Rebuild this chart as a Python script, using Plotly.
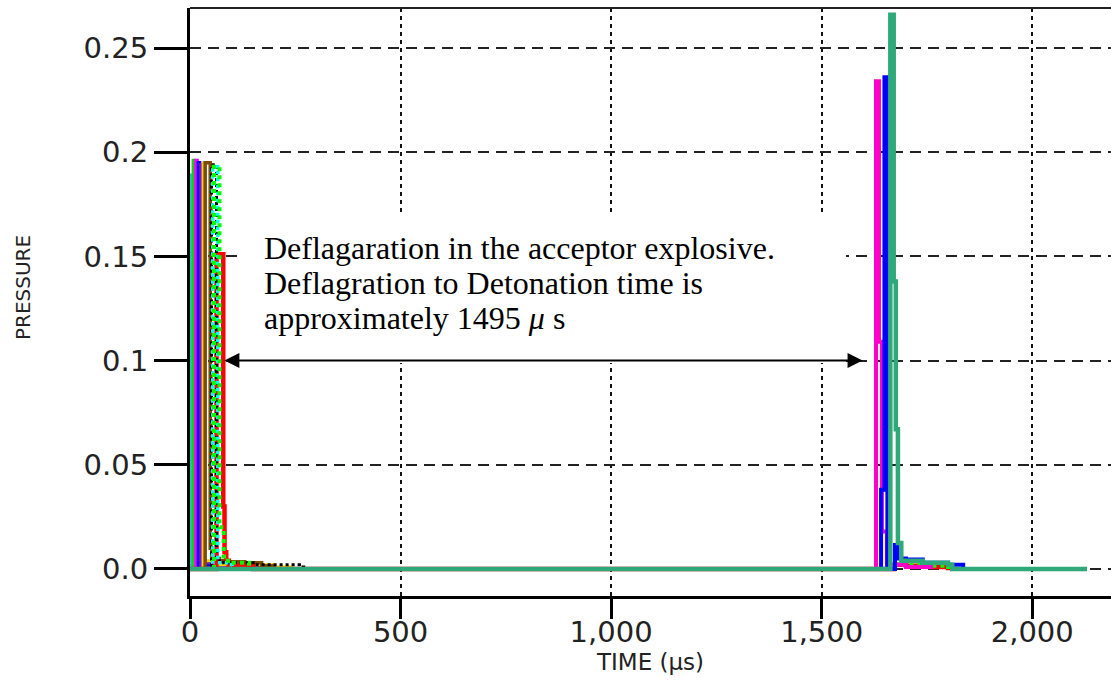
import plotly.graph_objects as go

# ---------------------------------------------------------------
# Gauge records: time in microseconds, pressure in solver units.
# Samples are held until the next sample (step plotting).
# ---------------------------------------------------------------

# Donor-side gauges (first pulse near t = 0)
t_cyan = [0, 2, 5, 40, 120]
p_cyan = [0.0, 0.189, 0.002, 0.001, 0.0]

t_green = [0, 8, 11, 60, 150]
p_green = [0.0, 0.196, 0.002, 0.001, 0.0]

t_magenta = [0, 14, 17, 80, 160]
p_magenta = [0.0, 0.196, 0.002, 0.001, 0.0]

t_blue = [0, 20, 23, 90, 170]
p_blue = [0.0, 0.195, 0.002, 0.001, 0.0]

t_purple = [0, 26, 29, 100, 180]
p_purple = [0.0, 0.194, 0.003, 0.001, 0.0]

t_yellow = [0, 31, 34, 60, 200, 240]
p_yellow = [0.0, 0.195, 0.004, 0.002, 0.001, 0.0]

t_brown = [0, 36, 48, 52, 70, 90, 130, 170, 200]
p_brown = [0.0, 0.195, 0.010, 0.005, 0.004, 0.0035, 0.003, 0.0015, 0.0]

t_red = [0, 63, 79, 82, 86, 92, 150, 1672, 1700, 1760, 1800, 1805]
p_red = [0.0, 0.151, 0.030, 0.008, 0.004, 0.002, 0.0, 0.002, 0.0015, 0.001, 0.0005, 0.0]

t_black_dot = [0, 51, 63, 80, 150, 260, 270]
p_black_dot = [0.0, 0.194, 0.004, 0.003, 0.002, 0.001, 0.0]

t_cyan_dot = [0, 54, 66, 90, 100]
p_cyan_dot = [0.0, 0.193, 0.003, 0.002, 0.0]

t_lime_dot = [0, 57, 70, 80, 90, 140, 1676, 1750, 1800, 1805]
p_lime_dot = [0.0, 0.193, 0.020, 0.006, 0.003, 0.0, 0.002, 0.0015, 0.001, 0.0]

# Acceptor-side gauges (detonation pulse near t = 1650)
t_pink = [1600, 1629, 1636, 1643, 1655, 1700, 1760]
p_pink = [0.0, 0.234, 0.109, 0.018, 0.002, 0.001, 0.0]

t_blue2 = [1600, 1641, 1649, 1656, 1674, 1680, 1700, 1740, 1800, 1836]
p_blue2 = [0.0, 0.038, 0.236, 0.0, 0.0115, 0.005, 0.0045, 0.003, 0.002, 0.0]

t_seagreen = [0, 1663, 1671, 1676, 1681, 1689, 1740, 1800, 1810, 2130]
p_seagreen = [0.0, 0.266, 0.138, 0.067, 0.0125, 0.004, 0.003, 0.002, 0.0, 0.0]

# Axis ticks
x_ticks = [0, 500, 1000, 1500, 2000]
x_tick_text = ["0", "500", "1,000", "1,500", "2,000"]
y_ticks = [0.0, 0.05, 0.1, 0.15, 0.2, 0.25]
y_tick_text = ["0.0", "0.05", "0.1", "0.15", "0.2", "0.25"]

# Interval between the deflagration onset and detonation (arrow ends, µs)
arrow_start = 78
arrow_end = 1597
arrow_level = 0.1

note_lines = [
    "Deflagaration in the acceptor explosive.",
    "Deflagration to Detonation time is",
    "approximately 1495 <i>μ</i> s",
]

# ---------------------------------------------------------------
# Styling per gauge (colour, dash, width)
# ---------------------------------------------------------------
series = [
    (t_cyan, p_cyan, "#1ec8c8", "solid", 3.5),
    (t_green, p_green, "#10d010", "solid", 3.5),
    (t_magenta, p_magenta, "#ff00ff", "solid", 3.5),
    (t_blue, p_blue, "#0000ff", "solid", 3.5),
    (t_purple, p_purple, "#7a10d0", "solid", 3.5),
    (t_yellow, p_yellow, "#ffd400", "solid", 3.0),
    (t_brown, p_brown, "#7b4a06", "solid", 3.5),
    (t_red, p_red, "#ff0000", "solid", 4.5),
    (t_black_dot, p_black_dot, "#000000", "dot", 3.0),
    (t_cyan_dot, p_cyan_dot, "#00ffff", "dot", 3.5),
    (t_lime_dot, p_lime_dot, "#00ff00", "dot", 4.0),
    (t_pink, p_pink, "#ff00c8", "solid", 4.0),
    (t_blue2, p_blue2, "#0000ff", "solid", 4.0),
    (t_seagreen, p_seagreen, "#2fa87a", "solid", 4.5),
]

fig = go.Figure()
for t, p, color, dash, width in series:
    fig.add_trace(go.Scatter(
        x=t, y=p, mode="lines",
        line=dict(color=color, dash=dash, width=width, shape="hv"),
        hoverinfo="skip",
    ))

# Plot-area geometry (pixels)
W, H = 1111, 681
ML, MR, MT, MB = 190, 0, 8, 85
PW, PH = W - ML - MR, H - MT - MB


def px_x(px):
    return (px - ML) / PW


def px_y(py):
    return (H - MB - py) / PH


tick_font = dict(family="DejaVu Sans", size=29, color="#222222")

fig.update_layout(
    width=W, height=H,
    margin=dict(l=ML, r=MR, t=MT, b=MB, pad=0),
    paper_bgcolor="white", plot_bgcolor="white",
    showlegend=False,
    xaxis=dict(
        range=[0, 2187],
        tickvals=x_ticks, ticktext=x_tick_text,
        tickfont=tick_font, ticklabelstandoff=-12,
        showline=True, linecolor="black", linewidth=3,
        ticks="outside", ticklen=20, tickwidth=3, tickcolor="black",
        showgrid=True, gridcolor="#111111", gridwidth=2, griddash="4px,4px",
        zeroline=False,
        title=dict(text="TIME (µs)", font=dict(family="DejaVu Sans", size=23, color="#222222"), standoff=4),
    ),
    yaxis=dict(
        range=[-0.01296, 0.2692],
        tickvals=y_ticks, ticktext=y_tick_text,
        tickfont=tick_font,
        showline=True, linecolor="black", linewidth=3,
        ticks="outside", ticklen=33, tickwidth=3, tickcolor="black",
        showgrid=True, gridcolor="#222222", gridwidth=2, griddash="11px,7px",
        zeroline=False,
    ),
    shapes=[
        # thin top frame line
        dict(type="line", xref="paper", yref="paper", x0=0, x1=1, y0=1, y1=1,
             line=dict(color="#222222", width=2)),
        # white backing for the note
        dict(type="rect", xref="paper", yref="paper", layer="above",
             x0=px_x(238), x1=px_x(846), y0=px_y(363), y1=px_y(216),
             fillcolor="white", line=dict(width=0)),
    ],
)

annotations = [
    # vertical axis title
    dict(xref="paper", yref="paper", x=px_x(23), y=px_y(288),
         xanchor="center", yanchor="middle", showarrow=False, textangle=-90,
         text="PRESSURE", font=dict(family="DejaVu Sans", size=20, color="#222222")),
]
for i, line in enumerate(note_lines):
    annotations.append(dict(
        xref="paper", yref="paper", x=px_x(262), y=px_y(247.5 + 35 * i),
        xanchor="left", yanchor="middle", showarrow=False, text=line,
        font=dict(family="Liberation Serif", size=32, color="black"),
    ))

annotations.append(dict(
    xref="x", yref="y", axref="x", ayref="y",
    x=arrow_end, y=arrow_level, ax=arrow_start, ay=arrow_level,
    text="", showarrow=True,
    arrowhead=2, startarrowhead=2, arrowside="end+start",
    arrowsize=1.5, startarrowsize=1.5, arrowwidth=2, arrowcolor="black",
    standoff=0, startstandoff=0,
))
fig.update_layout(annotations=annotations)

fig.write_html("out.html")
